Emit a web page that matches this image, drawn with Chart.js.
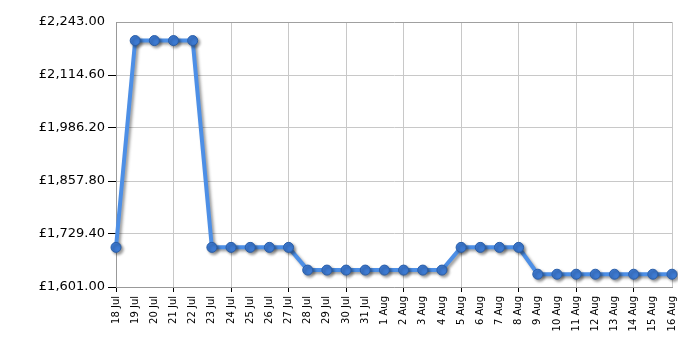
<!DOCTYPE html>
<html>
<head>
<meta charset="utf-8">
<script src="https://cdn.jsdelivr.net/npm/chart.js@4"></script>
<style>
  html, body { margin: 0; padding: 0; background: #fff; }
  #wrap { width: 700px; height: 350px; }
</style>
</head>
<body>
<div id="wrap"><canvas id="priceChart" width="700" height="350"></canvas></div>
<script>
let days = ['18 Jul', '19 Jul', '20 Jul', '21 Jul', '22 Jul', '23 Jul', '24 Jul', '25 Jul', '26 Jul', '27 Jul',
    '28 Jul', '29 Jul', '30 Jul', '31 Jul', '1 Aug', '2 Aug', '3 Aug', '4 Aug', '5 Aug', '6 Aug',
    '7 Aug', '8 Aug', '9 Aug', '10 Aug', '11 Aug', '12 Aug', '13 Aug', '14 Aug', '15 Aug', '16 Aug'];
let prices = [1697, 2198, 2198, 2198, 2198, 1697, 1697, 1697, 1697, 1697,
    1642, 1642, 1642, 1642, 1642, 1642, 1642, 1642, 1697, 1697,
    1697, 1697, 1632, 1632, 1632, 1632, 1632, 1632, 1632, 1632];
let yTicks = [1601.00, 1729.40, 1857.80, 1986.20, 2114.60, 2243.00];

// soft grey drop shadow under the line and the dots
const shadowPlugin = {
    id: 'shadow',
    beforeDatasetsDraw(chart) {
        let c = chart.ctx;
        c.save();
        c.shadowColor = 'rgba(0, 0, 0, 0.4)';
        c.shadowOffsetX = 2;
        c.shadowOffsetY = 2;
        c.shadowBlur = 3;
    },
    afterDatasetsDraw(chart) {
        chart.ctx.restore();
    }
};

let ctx = document.getElementById('priceChart').getContext('2d');
let lastX = days.length - 1;
let xGrid = (c) => (c.index === lastX ? '#c8c8c8' : (c.index % 3 === 0 ? '#c8c8c8' : 'rgba(0,0,0,0)'));
let xTick = (c) => (c.index % 3 === 0 ? '#000' : 'rgba(0,0,0,0)');
let yGrid = (c) => (c.index === yTicks.length - 1 ? '#a0a0a0' : '#c8c8c8');
let yTick = (c) => (c.index === yTicks.length - 1 ? 'rgba(0,0,0,0)' : '#000');

new Chart(ctx, {
    type: 'line',
    data: {
        labels: days,
        datasets: [{
            data: prices,
            borderColor: '#4d8fe6',
            borderWidth: 4,
            pointRadius: 5,
            pointBackgroundColor: '#3d7ad2',
            pointBorderColor: '#2a5ea8',
            pointBorderWidth: 1,
            tension: 0,
            fill: false
        }]
    },
    options: {
        responsive: false,
        animation: false,
        layout: { padding: { top: 22, right: 28, left: 0, bottom: 0 } },
        plugins: { legend: { display: false }, tooltip: { enabled: false } },
        scales: {
            x: {
                offset: false,
                grid: { color: xGrid, tickColor: xTick, tickLength: 5 },
                border: { color: '#999' },
                ticks: {
                    autoSkip: false,
                    minRotation: 90,
                    maxRotation: 90,
                    color: '#000',
                    padding: 4,
                    font: { family: 'DejaVu Sans', size: 10 }
                },
                afterFit(scale) { scale.height = 63; }
            },
            y: {
                min: 1601,
                max: 2243,
                afterBuildTicks(scale) { scale.ticks = yTicks.map(v => ({ value: v })); },
                grid: { color: yGrid, tickColor: yTick, tickLength: 8 },
                border: { color: '#999' },
                ticks: {
                    color: '#000',
                    padding: 3,
                    font: { family: 'DejaVu Sans', size: 13 },
                    callback: (v) => '£' + Number(v).toLocaleString('en-GB', { minimumFractionDigits: 2, maximumFractionDigits: 2 })
                },
                afterFit(scale) { scale.width = 116; }
            }
        }
    },
    plugins: [shadowPlugin]
});
</script>
</body>
</html>
